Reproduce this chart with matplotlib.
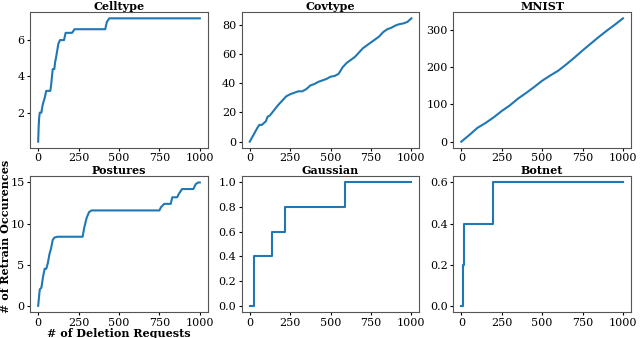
import matplotlib
matplotlib.use('Agg')
import matplotlib.pyplot as plt

plt.rcParams['font.family'] = 'DejaVu Serif'
plt.rcParams['font.size'] = 8

# Celltype
cell_x = [0, 3, 6, 10, 20, 25, 30, 40, 50, 75, 80, 90, 100, 105, 110, 125, 135, 160, 170, 210, 225, 415, 425, 440, 1000]
cell_y = [0.4, 1.2, 1.7, 2.0, 2.0, 2.3, 2.5, 2.8, 3.2, 3.2, 3.5, 4.4, 4.4, 4.8, 5.0, 5.8, 6.0, 6.0, 6.4, 6.4, 6.6, 6.6, 7.0, 7.2, 7.2]

# Covtype
cov_x = [0, 25, 50, 60, 75, 100, 110, 125, 150, 175, 200, 225, 250, 275, 300, 325, 350, 375, 400, 425,
         450, 475, 500, 525, 550, 575, 600, 625, 650, 675, 700, 725, 750, 775, 800, 825, 850, 875, 900,
         925, 950, 975, 1000]
cov_y = [0, 5, 10, 11.5, 11.5, 14, 17, 18, 21.5, 25, 28, 31, 32.5, 33.5, 34.5, 34.5, 36, 38.5, 39.5, 41,
         42, 43, 44.5, 45, 46.5, 51, 54, 56, 58, 61, 64, 66, 68, 70, 72, 75, 77, 78, 79.5,
         80.5, 81, 82, 84.5]

# MNIST
mnist_x = [0, 50, 100, 150, 200, 250, 300, 350, 400, 450, 500, 550, 600, 650, 700, 750, 800, 850, 900, 950, 1000]
mnist_y = [0, 18, 37, 50, 65, 82, 97, 115, 130, 146, 163, 177, 190, 207, 225, 244, 262, 280, 297, 313, 330]

# Postures
post_x = [0, 5, 10, 20, 30, 40, 50, 60, 70, 80, 90, 100, 120, 275, 285, 300, 315, 330, 750, 760, 780,
          820, 830, 860, 870, 890, 960, 975, 990, 1000]
post_y = [0, 1, 2, 2.2, 3.5, 4.5, 4.5, 5.2, 6.3, 7, 8, 8.3, 8.4, 8.4, 9.5, 10.7, 11.4, 11.6, 11.6, 12, 12.4,
          12.4, 13.2, 13.2, 13.6, 14.2, 14.2, 14.8, 15, 15]

# Gaussian (steps)
gauss_x = [0, 25, 135, 220, 590, 1000]
gauss_y = [0, 0.4, 0.6, 0.8, 1.0, 1.0]

# Botnet (steps)
bot_x = [0, 10, 15, 195, 1000]
bot_y = [0, 0.2, 0.4, 0.6, 0.6]

fig, axes = plt.subplots(2, 3, figsize=(6.4, 3.38), dpi=100)
plt.subplots_adjust(left=0.047, right=0.986, top=0.964, bottom=0.077, wspace=0.19, hspace=0.21)

panels = [
    ('Celltype', cell_x, cell_y, 'default'),
    ('Covtype', cov_x, cov_y, 'default'),
    ('MNIST', mnist_x, mnist_y, 'default'),
    ('Postures', post_x, post_y, 'default'),
    ('Gaussian', gauss_x, gauss_y, 'steps-post'),
    ('Botnet', bot_x, bot_y, 'steps-post'),
]

for ax, (name, xs, ys, ds) in zip(axes.flat, panels):
    ax.plot(xs, ys, color='#1f77b4', linewidth=1.5, drawstyle=ds)
    ax.set_title(name, fontweight='bold', fontsize=8, pad=1)
    ax.set_xticks([0, 250, 500, 750, 1000])
    ax.tick_params(length=2.5, pad=1.5, labelsize=8)
    for s in ax.spines.values():
        s.set_color('#555555')

axes[0, 0].set_yticks([2, 4, 6])
axes[0, 1].set_yticks([0, 20, 40, 60, 80])
axes[0, 2].set_yticks([0, 100, 200, 300])
axes[1, 0].set_yticks([0, 5, 10, 15])
axes[1, 1].set_yticks([0.0, 0.2, 0.4, 0.6, 0.8, 1.0])
axes[1, 2].set_yticks([0.0, 0.2, 0.4, 0.6])

fig.text(0.008, 0.302, '# of Retrain Occurences', rotation=90, fontweight='bold',
         fontsize=8, ha='center', va='center')
axes[1, 0].set_xlabel('# of Deletion Requests', fontweight='bold', fontsize=8, labelpad=0)

fig.savefig('out.png')
